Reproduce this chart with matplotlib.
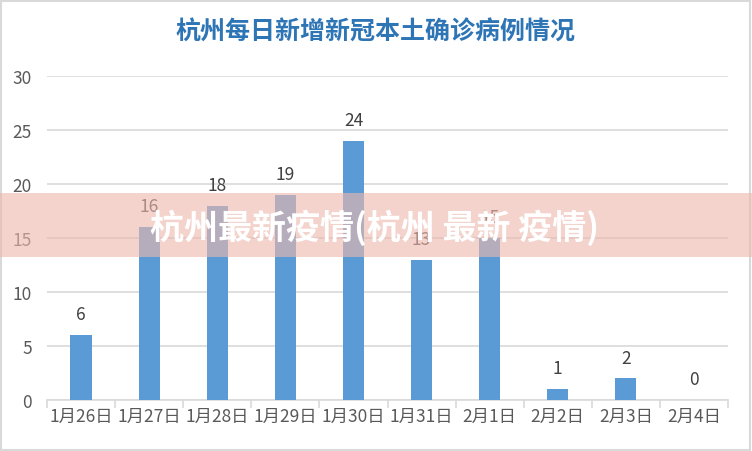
import matplotlib
matplotlib.use("Agg")
import matplotlib.pyplot as plt
from matplotlib.patches import Rectangle

plt.rcParams['font.family'] = ['Noto Sans CJK SC', 'DejaVu Sans']

categories = ["1月26日", "1月27日", "1月28日", "1月29日", "1月30日",
              "1月31日", "2月1日", "2月2日", "2月3日", "2月4日"]
values = [6, 16, 18, 19, 24, 13, 15, 1, 2, 0]
yticks = [0, 5, 10, 15, 20, 25, 30]
title = "杭州每日新增新冠本土确诊病例情况"
banner = "杭州最新疫情(杭州 最新 疫情)"

W, H = 752, 452
fig = plt.figure(figsize=(W / 100, H / 100), dpi=100)
fig.patch.set_facecolor("white")

ax = fig.add_axes([47 / W, 51 / H, (728 - 47) / W, (401 - 77) / H])
x = list(range(len(categories)))
ax.bar(x, values, width=0.31, color="#5B9BD5", zorder=3)
for xi, v in zip(x, values):
    ax.text(xi, v + 1.1, str(v), ha="center", va="bottom",
            fontsize=12.5, color="#404040", zorder=4)

ax.set_xlim(-0.5, len(categories) - 0.5)
ax.set_ylim(0, 30)
ax.set_yticks(yticks)
ax.set_yticklabels([str(t) for t in yticks], fontsize=12.5, color="#595959")
ax.set_xticks(x)
ax.set_xticklabels(categories, fontsize=12.5, color="#595959")
ax.tick_params(axis="x", length=0, pad=5)
ax.tick_params(axis="y", length=0, pad=11)
ax.set_xticks([i - 0.5 for i in range(len(categories) + 1)], minor=True)
ax.tick_params(axis="x", which="minor", length=6, color="#D9D9D9", width=1.2)
ax.grid(axis="y", color="#D9D9D9", linewidth=1.2, zorder=0)
for s in ["top", "right", "left"]:
    ax.spines[s].set_visible(False)
ax.spines["bottom"].set_color("#D9D9D9")
ax.spines["bottom"].set_linewidth(1.2)

fig.text(376 / W, 1 - 33 / H, title, ha="center", va="center",
         fontsize=18, fontweight="bold", color="#2E75B6")

# outer border
fig.patches.append(Rectangle((1 / W, 1 / H), 1 - 3 / W, 1 - 3 / H,
                             transform=fig.transFigure, fill=False,
                             edgecolor="#D9D9D9", linewidth=1.5, zorder=10))

# overlay banner
fig.patches.append(Rectangle((0, 1 - 258 / H), 1, 64 / H,
                             transform=fig.transFigure,
                             facecolor=(0.93, 0.72, 0.68), alpha=0.62,
                             edgecolor="none", zorder=20))
fig.text(375 / W, 1 - 228 / H, banner, ha="center", va="center",
         fontsize=24.5, fontweight="heavy", color="white", zorder=21)

fig.savefig("out.png", dpi=100)
